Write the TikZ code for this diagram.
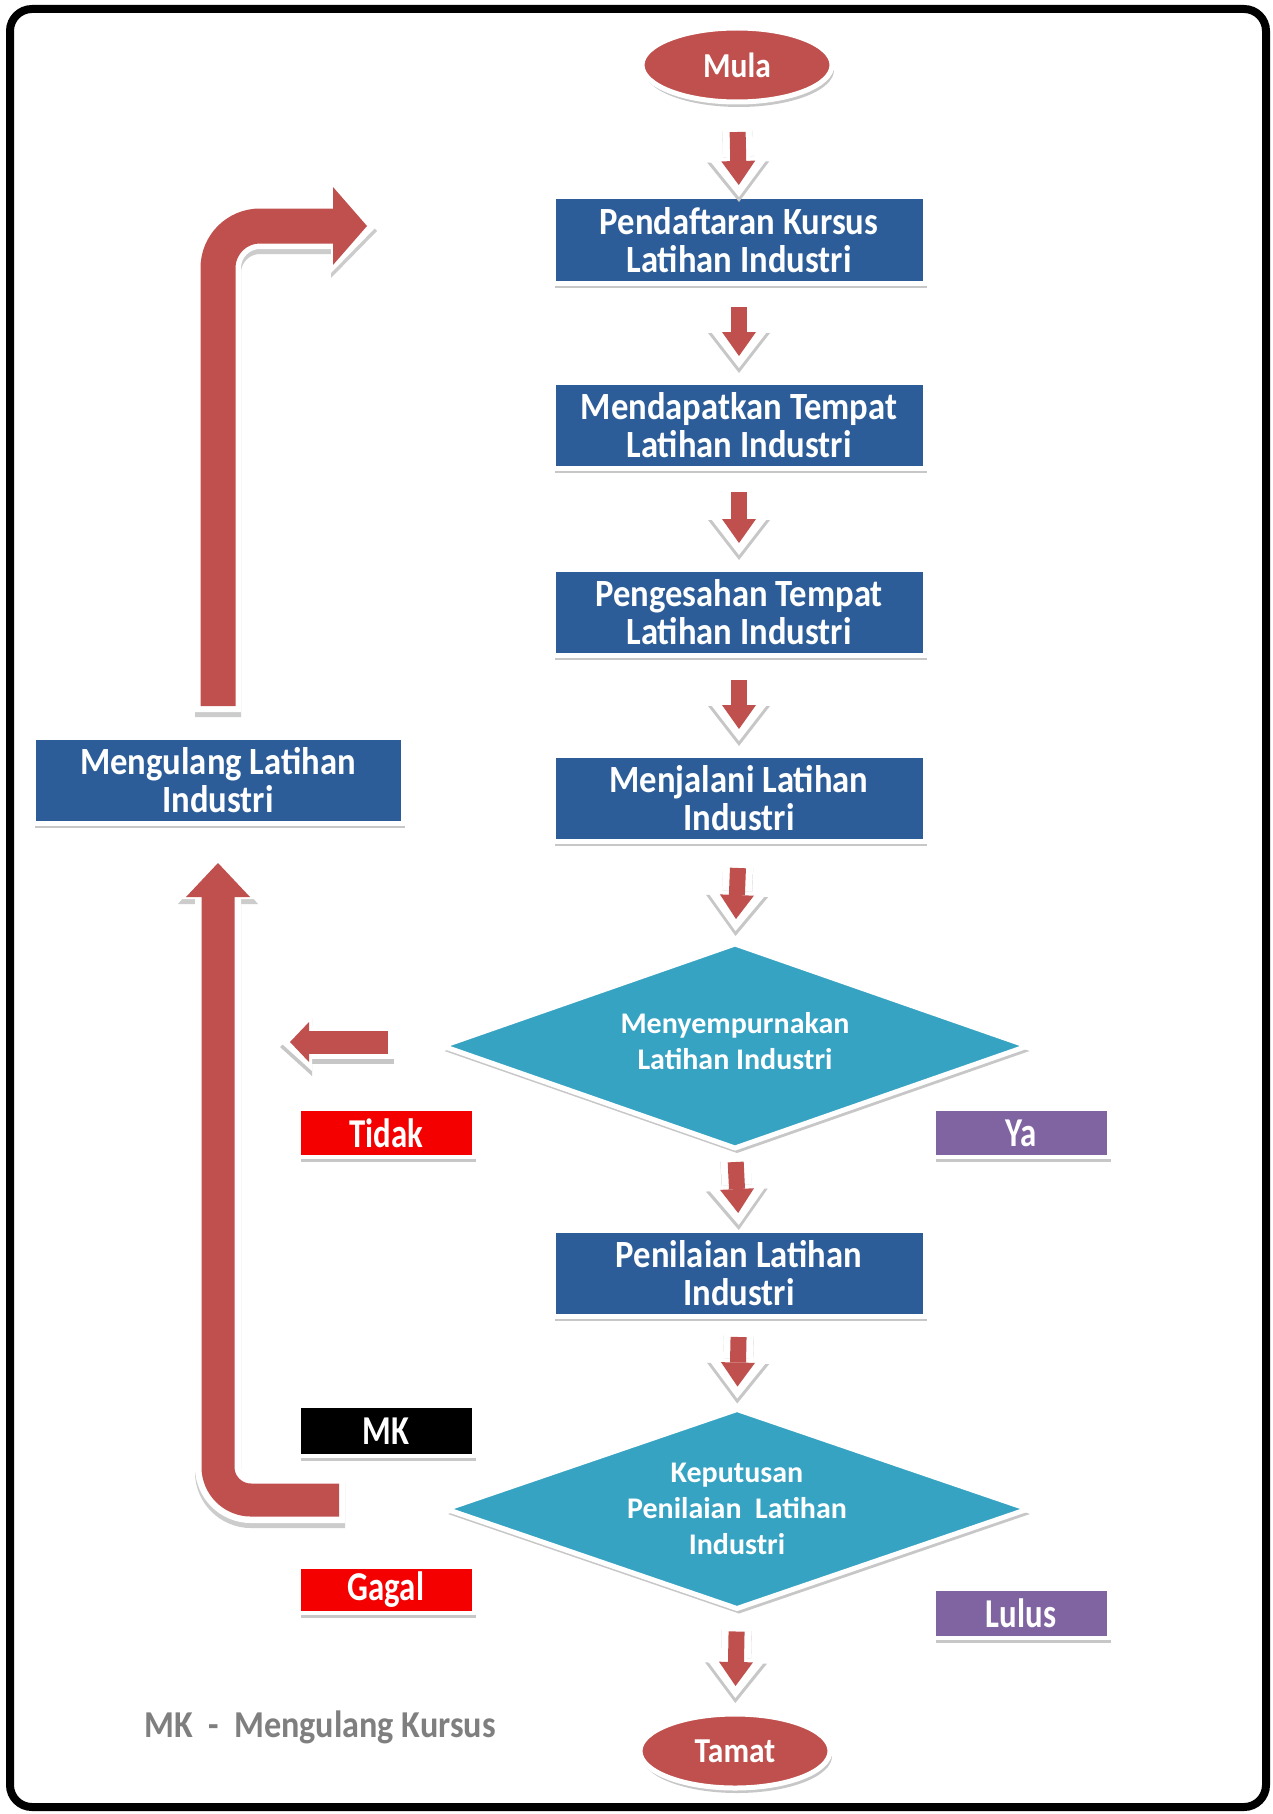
\documentclass[tikz,border=0pt]{standalone}
\usepackage{fontspec}
\setmainfont{Carlito}
\newfontfamily\condfont[FakeStretch=0.9]{Carlito}
\newfontfamily\narrowfont[FakeStretch=0.8]{Carlito}
\usetikzlibrary{shapes.geometric,arrows.meta,shadows}
\definecolor{arrred}{HTML}{C0504D}
\definecolor{boxblue}{HTML}{2D5D98}
\definecolor{dteal}{HTML}{37A3C3}
\definecolor{lblred}{HTML}{F50000}
\definecolor{lblpurple}{HTML}{8064A2}
\definecolor{notegray}{HTML}{7F7F7F}
% small flow arrow: from, to, shorten start, shorten end (numbers in pt)
\newcommand{\flowarr}[4]{%
  \draw[sarrshadow, shorten <=#3pt-6pt, shorten >=#4pt-12pt] (#1) -- (#2);
  \draw[sarrglow, shorten <=#3pt-6pt, shorten >=#4pt-12pt] (#1) -- (#2);
  \draw[sarr, shorten <=#3pt, shorten >=#4pt] (#1) -- (#2);}
\begin{document}
\begin{tikzpicture}[x=1pt,y=-1pt,
  every node/.style={outer sep=0pt, inner sep=0pt, align=center},
  shad/.style={drop shadow={shadow xshift=2pt, shadow yshift=-5pt, fill=black, opacity=.22}},
  procbox/.style={rectangle, fill=boxblue, draw=white, line width=5pt, minimum width=372pt,
    minimum height=86pt, text=white, font=\condfont\bfseries\fontsize{38.5}{38}\selectfont, shad},
  terminal/.style={ellipse, fill=arrred, draw=white, line width=5pt, minimum width=190pt,
    minimum height=74pt, text=white, font=\condfont\bfseries\fontsize{35}{36}\selectfont, shad},
  decision/.style={diamond, fill=dteal, draw=white, line width=5pt, shape aspect=2.85,
    minimum width=585pt, minimum height=204pt, text=white,
    font=\bfseries\fontsize{30}{36}\selectfont, shad},
  lbl/.style={rectangle, draw=white, line width=4pt, minimum width=175pt, text=white,
    font=\narrowfont\bfseries\fontsize{41}{40}\selectfont, shad},
  sarr/.style={draw=arrred, line width=16pt, line cap=butt,
    -{Triangle[length=24pt,width=34pt,line width=0pt]}},
  sarrglow/.style={draw=white, line width=30pt, line cap=butt,
    -{Triangle[length=40pt,width=62pt,line width=0pt]}},
  sarrshadow/.style={sarrglow, draw=black!22, transform canvas={yshift=-5pt}},
  bigarr/.style={draw=arrred, line width=34pt, line cap=butt},
  bigglow/.style={draw=white, line width=46pt, line cap=butt},
  bigshadow/.style={draw=black!20, line width=46pt, line cap=butt, transform canvas={yshift=-5pt}}
]
\useasboundingbox (0,0) rectangle (1273,1814);
\fill[white] (0,0) rectangle (1273,1814);
\draw[line width=8pt, rounded corners=22pt] (10,9) rectangle (1266,1807);

% main column
\node[terminal] (mula) at (737,65) {Mula};
\node[procbox] (b1) at (739,240) {Pendaftaran Kursus\\Latihan Industri};
\node[procbox] (b2) at (739,425) {Mendapatkan Tempat\\Latihan Industri};
\node[procbox] (b3) at (739,612) {Pengesahan Tempat\\Latihan Industri};
\node[procbox] (b4) at (739,798) {Menjalani Latihan\\Industri};
\node[decision] (d1) at (735,1046) {Menyempurnakan\\Latihan Industri\\[-26pt]\mbox{}};
\node[procbox] (b5) at (739,1273) {Penilaian Latihan\\Industri};
\node[decision, minimum height=199pt, minimum width=582pt] (d2) at (737,1509)
  {Keputusan\\Penilaian\ \ Latihan\\Industri};
\node[terminal] (tamat) at (735,1751) {Tamat};

% side box
\node[procbox, minimum width=370pt] (meng) at (218,780) {Mengulang Latihan\\Industri};

% labels
\node[lbl, fill=lblred, minimum height=48pt] (tidak) at (386,1133) {Tidak};
\node[lbl, fill=lblpurple, minimum height=48pt] (ya) at (1021,1133) {Ya};
\node[lbl, fill=black, minimum height=50pt] (mk) at (386,1431) {MK};
\node[lbl, fill=lblred, minimum height=46pt] (gagal) at (386,1590) {Gagal};
\node[lbl, fill=lblpurple, minimum height=49pt] (lulus) at (1021,1613) {Lulus};

\node[font=\condfont\bfseries\fontsize{38}{38}\selectfont, text=notegray] (note) at (320,1727)
  {MK\ \ -\ \ Mengulang Kursus};

% small flow arrows
\flowarr{mula.south}{b1.north}{30}{12}
\flowarr{b1.south}{b2.north}{24}{26}
\flowarr{b2.south}{b3.north}{24}{26}
\flowarr{b3.south}{b4.north}{25}{26}
\flowarr{b4.south}{d1.north}{27}{25}
\flowarr{d1.south}{b5.north}{14}{17}
\flowarr{b5.south}{d2.north}{21}{23}
\flowarr{d2.south}{tamat.north}{23}{28}

% Tidak arrow
\coordinate (tidS) at (388,1042);
\coordinate (tidE) at (290,1042);
\draw[sarrshadow, line width=33pt, -{Triangle[length=32pt,width=58pt,line width=0pt]}, shorten >=-10pt]
  ([xshift=6pt]tidS) -- (tidE);
\draw[sarrglow, line width=33pt, -{Triangle[length=32pt,width=58pt,line width=0pt]}, shorten >=-10pt]
  ([xshift=6pt]tidS) -- (tidE);
\draw[sarr, line width=23pt, -{Triangle[length=19pt,width=40pt,line width=0pt]}] (tidS) -- (tidE);

% top return arrow (Mengulang -> Pendaftaran)
\coordinate (topT) at (367,226);
\draw[bigshadow, rounded corners=42pt, shorten <=25pt, shorten >=-10pt,
  -{Triangle[length=46pt,width=94pt,line width=0pt]}] (meng.north) |- (topT);
\draw[bigglow, rounded corners=42pt, shorten <=25pt, shorten >=-10pt,
  -{Triangle[length=46pt,width=94pt,line width=0pt]}] (meng.north) |- (topT);
\draw[bigarr, line width=35pt, rounded corners=42pt, shorten <=31pt,
  -{Triangle[length=34pt,width=78pt,line width=0pt]}] (meng.north) |- (topT);

% bottom loop arrow (MK -> Mengulang)
\coordinate (loopS) at (339,1500);
\draw[bigshadow, rounded corners=33pt, shorten >=30pt,
  -{Triangle[length=46pt,width=80pt,line width=0pt]}] ([xshift=6pt]loopS) -| (meng.south);
\draw[bigglow, rounded corners=33pt, shorten >=30pt,
  -{Triangle[length=46pt,width=80pt,line width=0pt]}] ([xshift=6pt]loopS) -| (meng.south);
\draw[bigarr, line width=33pt, rounded corners=33pt, shorten >=40pt,
  -{Triangle[length=34pt,width=64pt,line width=0pt]}] (loopS) -| (meng.south);
\end{tikzpicture}
\end{document}
